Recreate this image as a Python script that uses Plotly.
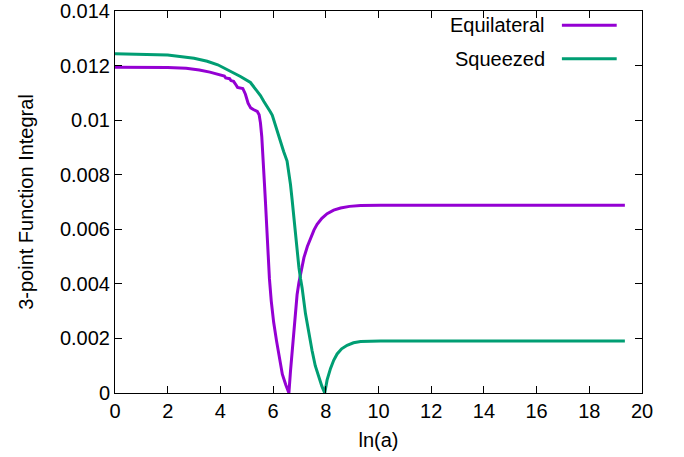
import plotly.graph_objects as go

# ---- data ----
eq_x = [0, 1, 2, 2.7, 3.2, 3.6, 4.0, 4.15, 4.2, 4.35, 4.4, 4.5, 4.6, 4.65, 4.85, 4.95,
        5.05, 5.15, 5.25, 5.40, 5.47, 5.52, 5.57, 5.62, 5.67, 5.71, 5.76, 5.80, 5.86,
        5.93, 6.02, 6.13, 6.24, 6.35, 6.48, 6.60, 6.66, 6.72, 6.79, 6.85, 6.91, 6.98,
        7.07, 7.17, 7.30, 7.42, 7.55, 7.67, 7.85, 8.05, 8.30, 8.56, 8.9, 9.32, 10.08, 19.35]
eq_y = [0.01194, 0.01194, 0.01193, 0.01190, 0.01184, 0.01176, 0.01166, 0.01162, 0.01155,
        0.01152, 0.01145, 0.01142, 0.01128, 0.01120, 0.01116, 0.01095, 0.01062, 0.01045,
        0.01039, 0.01032, 0.01020, 0.00990, 0.00940, 0.00870, 0.00770, 0.00700, 0.00600,
        0.00520, 0.00420, 0.00337, 0.00260, 0.00191, 0.00125, 0.00069, 0.00030, 0.0,
        0.0008, 0.00155, 0.00235, 0.00305, 0.00360, 0.00405, 0.00455, 0.00496, 0.00537,
        0.00569, 0.00597, 0.00618, 0.00640, 0.00657, 0.00670, 0.00678, 0.00684, 0.00687,
        0.00688, 0.00688]

sq_x = [0, 1, 2, 3, 3.5, 3.9, 4.5, 4.76, 5.14, 5.40, 5.52, 5.65, 5.78, 5.90, 5.97, 6.1,
        6.22, 6.28, 6.40, 6.53, 6.60, 6.66, 6.72, 6.79, 6.85, 6.91, 6.98, 7.04, 7.10,
        7.23, 7.36, 7.48, 7.60, 7.73, 7.85, 7.96, 8.05, 8.18, 8.30, 8.43, 8.60, 8.81,
        9.05, 9.32, 9.7, 10.08, 19.35]
sq_y = [0.01243, 0.01242, 0.01239, 0.01227, 0.01216, 0.01203, 0.01174, 0.01160, 0.01138,
        0.01105, 0.01090, 0.01068, 0.01050, 0.01030, 0.01018, 0.00975, 0.00935, 0.00922,
        0.00885, 0.00850, 0.00810, 0.00764, 0.00710, 0.00642, 0.00580, 0.00515, 0.00460,
        0.00420, 0.00386, 0.00290, 0.00216, 0.00155, 0.00100, 0.00057, 0.00025, 0.0,
        0.00048, 0.00090, 0.00120, 0.00143, 0.00162, 0.00175, 0.00184, 0.00189, 0.00191,
        0.00191, 0.00191]

x_ticks = [0, 2, 4, 6, 8, 10, 12, 14, 16, 18, 20]
y_ticks = [0, 0.002, 0.004, 0.006, 0.008, 0.010, 0.012, 0.014]
y_tick_labels = ["0", "0.002", "0.004", "0.006", "0.008", "0.01", "0.012", "0.014"]
series_names = ["Equilateral", "Squeezed"]
colors = ["#9400D3", "#009E73"]

FONT = "Liberation Sans, Arial, Helvetica, sans-serif"

fig = go.Figure()
for xs, ys, name, c in [(eq_x, eq_y, series_names[0], colors[0]),
                        (sq_x, sq_y, series_names[1], colors[1])]:
    fig.add_trace(go.Scatter(x=xs, y=ys, mode="lines", name=name,
                             line=dict(color=c, width=3), showlegend=False))

axis_common = dict(showline=True, linecolor="black", linewidth=1, mirror="ticks",
                   ticks="inside", ticklen=7, tickcolor="black", tickwidth=1,
                   showgrid=False, zeroline=False, ticklabeloverflow="allow",
                   automargin=False,
                   tickfont=dict(family=FONT, size=20, color="black"))

fig.update_xaxes(range=[0, 20.00001], tickvals=x_ticks,
                 title=dict(text="ln(a)", font=dict(family=FONT, size=20, color="black"),
                            standoff=11),
                 **axis_common)
fig.update_yaxes(range=[0, 0.0140001], tickvals=y_ticks, ticktext=y_tick_labels,
                 title=dict(text="3-point Function Integral",
                            font=dict(family=FONT, size=20, color="black"), standoff=20),
                 **axis_common)

# gnuplot-style legend: label right-aligned, sample line to the right
leg_rows = [(0.963, colors[0], series_names[0]), (0.875, colors[1], series_names[1])]
for yy, c, name in leg_rows:
    fig.add_annotation(xref="paper", yref="paper", x=0.820, y=yy, text=name,
                       showarrow=False, xanchor="right", yanchor="middle",
                       font=dict(family=FONT, size=20, color="black"))
    fig.add_shape(type="line", xref="paper", yref="paper", x0=0.848, x1=0.952,
                  y0=yy, y1=yy, line=dict(color=c, width=3))

fig.update_layout(width=684, height=457, paper_bgcolor="white", plot_bgcolor="white",
                  margin=dict(l=115, r=42, t=11, b=64), showlegend=False)

fig.write_html("out.html")
